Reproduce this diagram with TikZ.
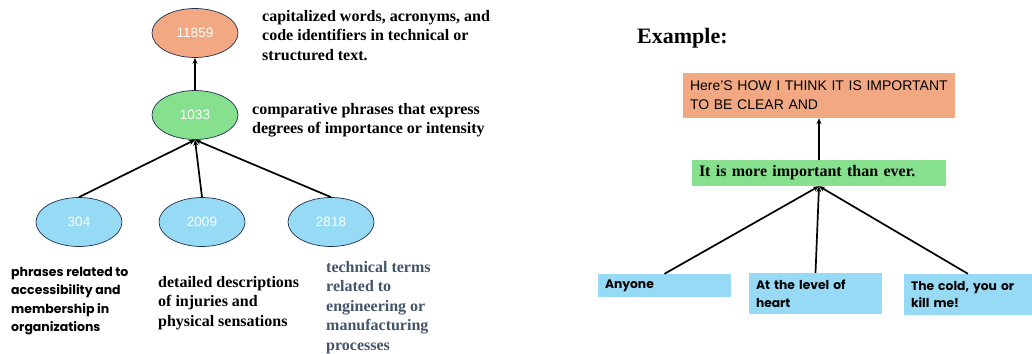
\documentclass[tikz,border=0pt]{standalone}
\usepackage{fontspec}
\setmainfont{Liberation Serif}
\setsansfont{Liberation Sans}
\newfontfamily\popfont{Poppins}
\usepackage{tikz}
\usetikzlibrary{shapes, arrows.meta, positioning}
\definecolor{salmon}{HTML}{F2A983}
\definecolor{leaf}{HTML}{86E08E}
\definecolor{sky}{HTML}{97DAF6}
\definecolor{navy}{HTML}{1F3050}
\definecolor{slate}{HTML}{44546A}
\tikzset{
    node distance =1.1 cm and 1.1 cm,% pixel-like units are set in the picture options below
}

\begin{document}
\begin{tikzpicture}
            [x=1pt, y=-1pt,
            cluster/.style={ellipse, draw=navy, line width=0.7pt, minimum width=86pt, minimum height=49pt, inner sep=0pt, text=white, font=\sffamily\fontsize{13.5}{15}\selectfont},
            desc/.style={anchor=north west, align=left, inner sep=0pt, font=\bfseries\fontsize{16}{19.5}\selectfont},
            note/.style={anchor=north west, align=left, inner sep=0pt, font=\popfont\bfseries\fontsize{12.5}{18.3}\selectfont},
            box/.style={rectangle, inner xsep=7pt, inner ysep=0pt, align=left},
            link/.style={line width=1.7pt, -{Stealth[length=6pt, width=5pt]}}]
            \useasboundingbox (0,0) rectangle (1032,353);
            % cluster tree
            \node(11859) [cluster, fill=salmon] at (195,33) {11859};
            \node(1033) [cluster, fill=leaf] at (195,115) {1033};
            \node(304) [cluster, fill=sky] at (79,222) {304};
            \node(2009) [cluster, fill=sky] at (202,222) {2009};
            \node(2818) [cluster, fill=sky] at (331,222) {2818};
            \draw[link] (1033) -- (11859);
            \draw[link] (304.north) -- (1033.south);
            \draw[link] (2009.north) -- (1033.south);
            \draw[link] (2818.north) -- (1033.south);
            \node(d11859) [desc] at (262,10) {capitalized words, acronyms, and\\code identifiers in technical or\\structured text.};
            \node(d1033) [desc] at (252,103) {comparative phrases that express\\degrees of importance or intensity};
            \node(d304) [note] at (11,267) {phrases related to\\accessibility and\\membership in\\organizations};
            \node(d2009) [desc] at (158,276) {detailed descriptions\\of injuries and\\physical sensations};
            \node(d2818) [desc, text=slate] at (326,261) {technical terms\\related to\\engineering or\\manufacturing\\processes};
            % example
            \node(title) [anchor=base west, inner sep=0pt, font=\bfseries\fontsize{22}{26}\selectfont] at (637,44) {Example:};
            \node(top) [box, fill=salmon, text width=258pt, minimum height=45pt, font=\sffamily\fontsize{14}{19}\selectfont] at (819,95.5) {Here'S HOW I THINK IT IS IMPORTANT\\TO BE CLEAR AND};
            \node(mid) [box, fill=leaf, text width=240pt, minimum height=26pt, font=\bfseries\fontsize{16}{19}\selectfont] at (819,173) {It is more important than ever.};
            \node(w1) [box, fill=sky, text width=119pt, minimum height=23pt, font=\popfont\bfseries\fontsize{12.3}{17.5}\selectfont] at (664.5,285.5) {Anyone};
            \node(w2) [box, fill=sky, text width=119pt, minimum height=41pt, font=\popfont\bfseries\fontsize{12.3}{17.5}\selectfont] at (815.5,293.5) {At the level of\\heart};
            \node(w3) [box, fill=sky, text width=114pt, minimum height=41pt, font=\popfont\bfseries\fontsize{12.3}{17.5}\selectfont] at (968,294.5) {The cold, you or\\kill me!};
            \draw[link] (mid) -- (top);
            \draw[link] (w1.north) -- (mid.south);
            \draw[link] (w2.north) -- (mid.south);
            \draw[link] (w3.north) -- (mid.south);
        \end{tikzpicture}
\end{document}
